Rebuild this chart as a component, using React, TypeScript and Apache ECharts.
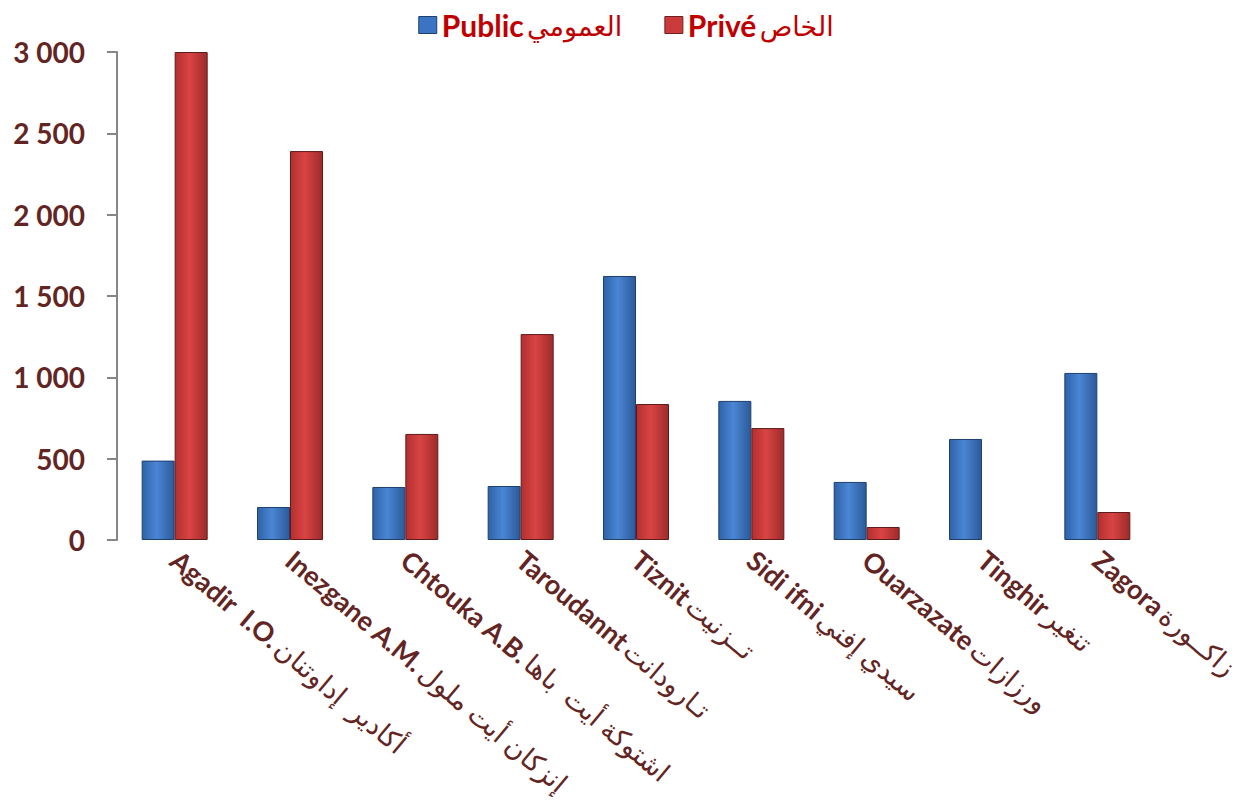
import React, { useEffect, useRef } from "react";
import * as echarts from "echarts";

const latinNames = ["Agadir  I.O.", "Inezgane A.M.", "Chtouka A.B.", "Taroudannt", "Tiznit", "Sidi ifni", "Ouarzazate", "Tinghir", "Zagora"];
const arabicNames = ["أكادير  إداوتنان", "إنزكان أيت ملول", "اشتوكة أيت  باها", "تـارودانت", "تــزنيت", "سيدي إفني", "ورزازات", "تنغير", "زاكــورة"];
const publicValues = [488, 203, 326, 332, 1623, 855, 357, 621, 1027];
const priveValues = [3000, 2391, 652, 1266, 836, 688, 80, 0, 172];
const seriesNames = ["Public", "Privé"];
const seriesArabic = ["العمومي", "الخاص"];

const LABEL_COLOR = "#632523";
const FONT = "Lato, 'DejaVu Sans', sans-serif";

export default function App() {
  const ref = useRef<HTMLDivElement>(null);
  useEffect(() => {
    if (!ref.current) return;
    const chart = echarts.init(ref.current, null, { renderer: "svg" });
    const blue = new echarts.graphic.LinearGradient(0, 0, 1, 0, [
      { offset: 0, color: "#2f62a8" },
      { offset: 0.45, color: "#4a86d4" },
      { offset: 1, color: "#2c5a99" },
    ]);
    const red = new echarts.graphic.LinearGradient(0, 0, 1, 0, [
      { offset: 0, color: "#b32f2f" },
      { offset: 0.45, color: "#d94444" },
      { offset: 1, color: "#9e2a2a" },
    ]);
    chart.setOption({
      animation: false,
      backgroundColor: "#ffffff",
      legend: {
        top: 5,
        left: "center",
        icon: "rect",
        itemWidth: 18,
        itemHeight: 17,
        itemGap: 42,
        data: [
          { name: seriesNames[0], itemStyle: { color: "#3b74c2", borderColor: "#1f3f6e", borderWidth: 1 } },
          { name: seriesNames[1], itemStyle: { color: "#cc3b3b", borderColor: "#6e1f1f", borderWidth: 1 } },
        ],
        formatter: (name: string) => {
          const i = seriesNames.indexOf(name);
          return "{b|" + name + "} {a|" + seriesArabic[i] + "}";
        },
        textStyle: {
          rich: {
            b: { fontFamily: FONT, fontWeight: "bold", fontSize: 30, color: "#C00000" },
            a: { fontFamily: FONT, fontWeight: "normal", fontSize: 27, color: "#C00000" },
          },
        },
      },
      grid: { left: 117, right: 97, top: 52, bottom: 267, containLabel: false },
      xAxis: {
        type: "category",
        data: latinNames,
        axisLine: { show: false },
        axisTick: { show: false },
        axisLabel: {
          interval: 0,
          rotate: -40,
          margin: 16,
          formatter: (v: string, idx: number) => "{b|" + v + "} {a|" + arabicNames[idx] + "}",
          rich: {
            b: { fontFamily: FONT, fontWeight: "bold", fontSize: 27, color: LABEL_COLOR },
            a: { fontFamily: FONT, fontWeight: "normal", fontSize: 27, color: LABEL_COLOR },
          },
        },
      },
      yAxis: {
        type: "value",
        min: 0,
        max: 3000,
        interval: 500,
        splitLine: { show: false },
        axisLine: { show: true, lineStyle: { color: "#868686", width: 2 } },
        axisTick: { show: true, length: 10, lineStyle: { color: "#868686", width: 2 } },
        axisLabel: {
          margin: 32,
          fontFamily: FONT,
          fontWeight: "bold",
          fontSize: 28,
          color: LABEL_COLOR,
          formatter: (v: number) => String(v).replace(/\B(?=(\d{3})+(?!\d))/g, " "),
        },
      },
      series: [
        {
          name: seriesNames[0],
          type: "bar",
          data: publicValues.map((v) => (v === 0 ? "-" : v)),
          barWidth: 33,
          barGap: "0%",
          itemStyle: { color: blue, borderColor: "#1f3f6e", borderWidth: 1 },
        },
        {
          name: seriesNames[1],
          type: "bar",
          data: priveValues.map((v) => (v === 0 ? "-" : v)),
          barWidth: 33,
          barGap: "0%",
          itemStyle: { color: red, borderColor: "#5e1b1b", borderWidth: 1 },
        },
      ],
    });
    return () => chart.dispose();
  }, []);
  return (
    <div
      ref={ref}
      style={{ position: "fixed", left: 0, top: 0, width: 1252, height: 807, background: "#fff" }}
    />
  );
}
